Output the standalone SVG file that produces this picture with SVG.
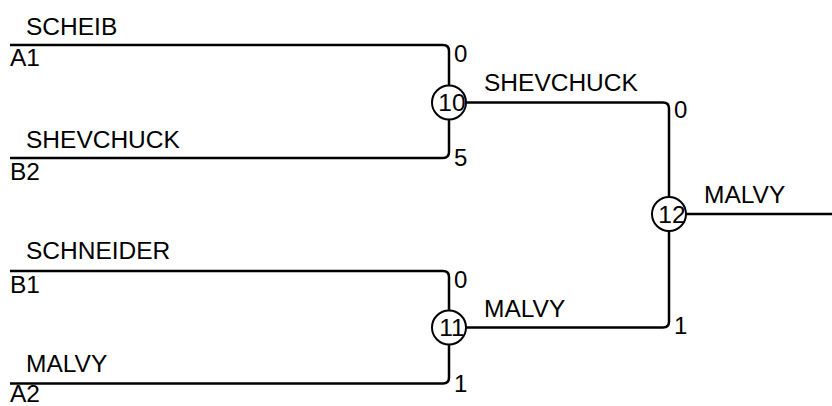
<svg xmlns="http://www.w3.org/2000/svg" width="832" height="406" viewBox="0 0 832 406">
<style>
text{font-family:"Liberation Sans",Arial,sans-serif;font-size:24.5px;fill:#000}
.p{font-size:24px}
.c{text-anchor:middle}
.w{fill:none;stroke:#000;stroke-width:2.5}
.n{fill:#fff;stroke:#000;stroke-width:2}
</style>
<rect width="832" height="406" fill="#fff"/>
<g id="connectors">
<path class="w" d="M10,45 H443 Q449,45 449,51 V85"/>
<path class="w" d="M10,158 H443 Q449,158 449,152 V120"/>
<path class="w" d="M10,271 H443 Q449,271 449,277 V310"/>
<path class="w" d="M10,383.5 H443 Q449,383.5 449,377.5 V345"/>
<path class="w" d="M466,102.5 H663 Q669,102.5 669,108.5 V197"/>
<path class="w" d="M466,327.5 H663 Q669,327.5 669,321.5 V231"/>
<path class="w" d="M686,214 H832"/>
<text x="26" y="35">SCHEIB</text>
<text x="10" y="66">A1</text>
<text x="26" y="148">SHEVCHUCK</text>
<text x="10" y="180">B2</text>
<text x="26" y="259">SCHNEIDER</text>
<text x="10" y="293">B1</text>
<text x="26" y="372">MALVY</text>
<text x="10" y="402">A2</text>
<text class="p" x="454" y="62">0</text>
<text class="p" x="454" y="166">5</text>
<text class="p" x="454" y="288">0</text>
<text class="p" x="454" y="392">1</text>
<text class="p" x="674" y="118">0</text>
<text class="p" x="674" y="334">1</text>
<text x="484" y="91">SHEVCHUCK</text>
<text x="484" y="317">MALVY</text>
<text x="704" y="203">MALVY</text>
</g>
<g id="node10"><circle class="n" cx="449" cy="102.5" r="17"/><text class="c" x="452" y="111">10</text></g>
<g id="node11"><circle class="n" cx="449" cy="327.5" r="17"/><text class="c" x="452" y="336">11</text></g>
<g id="node12"><circle class="n" cx="669" cy="214" r="17"/><text class="c" x="672" y="222.5">12</text></g>
</svg>
